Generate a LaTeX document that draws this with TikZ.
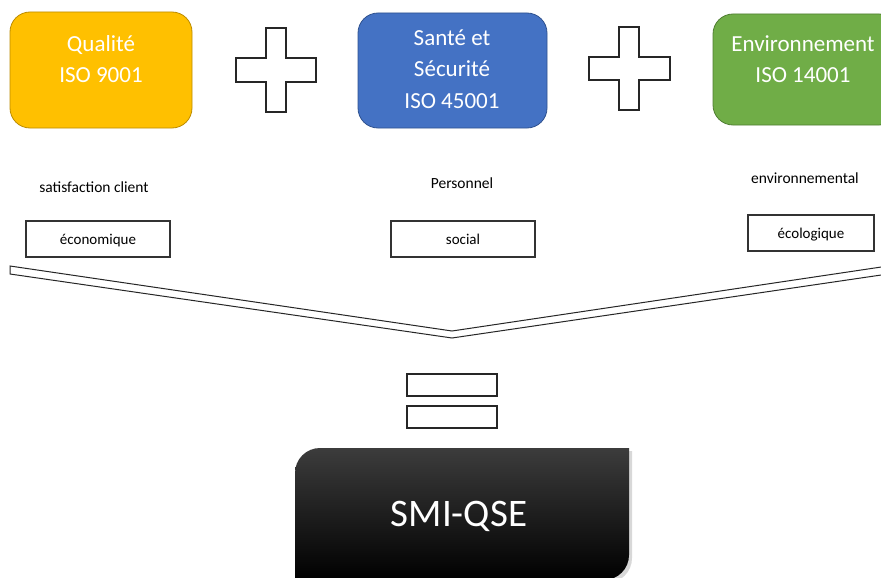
\documentclass[tikz,border=0pt]{standalone}
\usepackage{fontspec}
\setmainfont{Carlito}
\definecolor{qgold}{HTML}{FFC000}
\definecolor{qgoldb}{HTML}{BC8C00}
\definecolor{sblue}{HTML}{4472C4}
\definecolor{sblueb}{HTML}{2F528F}
\definecolor{egreen}{HTML}{70AD47}
\definecolor{egreenb}{HTML}{507E32}
\definecolor{smitop}{HTML}{3C3C3C}
\begin{document}
\begin{tikzpicture}[x=1pt,y=-1pt,
  topbox/.style={draw, rounded corners=20pt, line width=0.8pt, inner sep=0pt},
  boxtxt/.style={text=white, font=\fontsize{23}{28}\selectfont, anchor=base, inner sep=0pt},
  lbl/.style={font=\fontsize{15.5}{18}\selectfont, anchor=base, inner sep=0pt},
  smallbox/.style={draw=black!80, line width=1.2pt, fill=white, inner sep=0pt,
     font=\fontsize{15}{18}\selectfont, text height=10pt, text depth=0pt},
  outline/.style={draw=black!85, line width=1.1pt, fill=white, line join=miter},
  eqbar/.style={draw=black!85, line width=1.2pt, fill=white, inner sep=0pt,
     minimum width=90pt, minimum height=22pt}
]
\useasboundingbox (0,0) rectangle (881,578);
\fill[white] (0,0) rectangle (881,578);

% top coloured boxes
\node[topbox, fill=qgold, draw=qgoldb, minimum width=182pt, minimum height=116pt] (qual) at (101,70) {};
\node[topbox, fill=sblue, draw=sblueb, minimum width=189pt, minimum height=115pt] (sante) at (452.5,70.5) {};
\node[topbox, fill=egreen, draw=egreenb, minimum width=186pt, minimum height=111pt] (env) at (806,69.5) {};

\node[boxtxt] (q1) at (101,52) {Qualité};
\node[boxtxt] (q2) at (101,82) {ISO 9001};
\node[boxtxt] (s1) at (452,46) {Santé et};
\node[boxtxt] (s2) at (452,77) {Sécurité};
\node[boxtxt] (s3) at (452,108) {ISO 45001};
\node[boxtxt] (e1) at (803,52) {Environnement};
\node[boxtxt] (e2) at (803,83) {ISO 14001};

% plus signs
\draw[outline] (266,28) -- (286,28) -- (286,58) -- (316,58) -- (316,82) -- (286,82)
  -- (286,112) -- (266,112) -- (266,82) -- (236,82) -- (236,58) -- (266,58) -- cycle;
\draw[outline] (619,27) -- (639,27) -- (639,57) -- (670,57) -- (670,80) -- (639,80)
  -- (639,110) -- (619,110) -- (619,80) -- (589,80) -- (589,57) -- (619,57) -- cycle;

% labels
\node[lbl] (l1) at (94,192) {satisfaction client};
\node[lbl] (l2) at (462,188.5) {Personnel};
\node[lbl] (l3) at (805,183) {environnemental};

\node[smallbox, minimum width=144pt, minimum height=36pt] (eco) at (98,239) {économique};
\node[smallbox, minimum width=144pt, minimum height=36pt] (soc) at (463,239) {social};
\node[smallbox, minimum width=126pt, minimum height=36pt] (ecol) at (811,233) {écologique};

% chevron
\draw[outline, line width=1pt] (10,266) -- (452,331) -- (886,266.3) -- (886,274.3)
  -- (452,338) -- (10,274) -- cycle;

% equals sign
\node[eqbar] (eq1) at (452,385) {};
\node[eqbar] (eq2) at (452,417) {};

% SMI-QSE box
\fill[black!30, opacity=0.5] (298,584) -- (298,476) .. controls (298,462.2) and (309.2,451) .. (323,451)
  -- (632,451) -- (632,558) .. controls (632,571.8) and (620.8,583) .. (607,583) -- cycle;
\shade[top color=smitop, middle color=black, bottom color=black]
  (295,580) -- (295,473) .. controls (295,459.2) and (306.2,448) .. (320,448)
  -- (629,448) -- (629,555) .. controls (629,568.8) and (617.8,580) .. (604,580) -- cycle;
\node[text=white, font=\fontsize{39}{45}\selectfont, anchor=base, inner sep=0pt] (smi) at (459,526) {SMI-QSE};
\end{tikzpicture}
\end{document}
